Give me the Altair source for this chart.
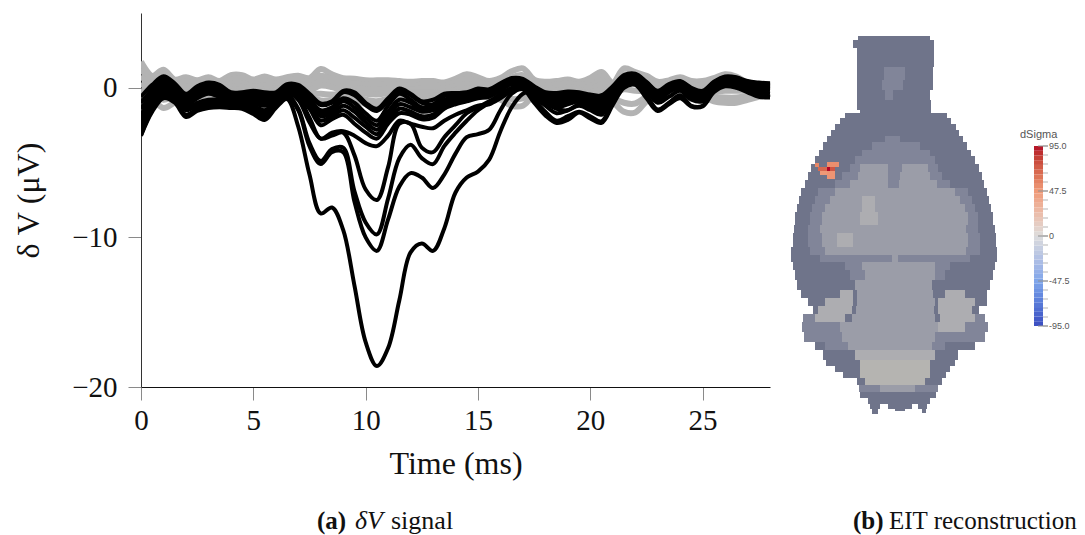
import altair as alt
import pandas as pd

TIME = [i * 0.5 for i in range(57)]
X_TICKS = [0, 5, 10, 15, 20, 25]
Y_TICKS = [-20, -10, 0]

GREY = {
 "g1": [1.75,0.8,1.2,0.55,0.7,0.5,0.7,0.45,0.85,0.85,0.55,0.75,0.55,0.7,0.8,0.65,1.25,0.9,0.65,0.6,0.5,0.5,0.5,0.45,0.4,0.45,0.45,0.35,0.6,0.9,0.7,0.45,0.65,1.1,1.3,0.55,0.4,0.45,0.55,0.4,0.65,1.05,0.35,1.3,1.05,0.8,0.4,0.5,0.7,0.45,0.45,0.65,0.9,0.75,0.35,0.25,0.2],
 "g2": [1.3,0.5,0.9,0.3,0.4,0.3,0.45,0.25,0.55,0.6,0.3,0.45,0.3,0.5,0.55,0.4,0.8,0.6,0.35,0.3,0.2,0.2,0.25,0.2,0.15,0.2,0.2,0.15,0.35,0.6,0.4,0.2,0.35,0.7,0.85,0.3,0.15,0.2,0.3,0.2,0.35,0.75,0.15,0.9,0.75,0.5,0.15,0.25,0.45,0.2,0.2,0.4,0.6,0.5,0.2,0.1,0.05],
 "g3": [0.8,0.2,0.4,0.05,0.1,0.05,0.15,0.05,0.3,0.3,0.1,0.15,0.1,0.25,0.25,0.1,0.45,0.3,0.05,0,-0.1,-0.1,-0.05,-0.05,-0.1,-0.05,-0.05,-0.05,0.1,0.25,0.1,-0.05,0.05,0.3,0.4,0.05,-0.05,0,0.05,-0.05,0.1,0.5,-0.1,0.45,0.3,0.15,-0.05,0,0.15,0,-0.05,0.1,0.2,0.15,0,-0.1,-0.1],
 "g4": [0.3,-0.15,-0.1,-0.2,-0.2,-0.25,-0.2,-0.2,0.05,0.05,-0.1,-0.1,-0.05,0,0,-0.15,0.15,0.05,-0.2,-0.25,-0.4,-0.45,-0.35,-0.25,-0.3,-0.3,-0.3,-0.25,-0.15,-0.05,-0.15,-0.25,-0.25,-0.1,-0.05,-0.15,-0.2,-0.2,-0.15,-0.2,-0.1,0.2,-0.35,-0.1,-0.2,-0.2,-0.2,-0.2,-0.1,-0.2,-0.3,-0.25,-0.2,-0.2,-0.2,-0.3,-0.3],
 "g5": [-0.1,-0.5,-0.8,-0.6,-0.55,-0.6,-0.6,-0.5,-0.15,-0.15,-0.25,-0.25,-0.2,-0.15,-0.25,-0.4,-0.4,-0.45,-0.4,-0.5,-0.8,-0.9,-0.7,-0.45,-0.55,-0.6,-0.55,-0.45,-0.35,-0.3,-0.35,-0.45,-0.55,-0.75,-0.7,-0.35,-0.35,-0.35,-0.3,-0.35,-0.25,-0.05,-0.65,-1.0,-1.05,-0.6,-0.3,-0.35,-0.35,-0.4,-0.5,-0.6,-0.65,-0.65,-0.55,-0.5,-0.4],
 "g6": [-0.4,-0.75,-1.35,-1.0,-0.8,-0.9,-0.9,-0.7,-0.25,-0.25,-0.35,-0.35,-0.25,-0.25,-0.4,-0.6,-0.85,-0.8,-0.55,-0.7,-1.1,-1.25,-0.9,-0.6,-0.7,-0.8,-0.7,-0.6,-0.5,-0.4,-0.5,-0.6,-0.8,-1.2,-1.2,-0.5,-0.4,-0.4,-0.4,-0.4,-0.3,-0.2,-0.9,-1.6,-1.65,-0.9,-0.3,-0.4,-0.5,-0.5,-0.6,-0.9,-1.0,-1.0,-0.8,-0.6,-0.4],
}

BLACK = {
 "b1": [-0.6,0.2,0.78,0.3,-0.4,0.1,0.35,0.2,-0.3,-0.3,-0.2,-0.3,-0.3,0.25,0.2, -0.4,-1.05,-0.9,-0.2,-0.3,-1.0,-1.4,-0.7,-0.05,-0.4,-0.9,-0.8,-0.4,-0.35,-0.3,-0.05,-0.1,0.3,0.65, 0.6,0.1,-0.3,-0.35,-0.25,-0.3,-0.45,-0.5,0.1,0.85,0.95,0.4,-0.2,0.25,0.45,0,-0.2,0.4,0.75,0.7,0.45,0.35,0.3],
 "b2": [-1.0,-0.1,0.65,0.2,-0.5,0,0.3,0.1,-0.35,-0.35,-0.3,-0.35,-0.4,0.2,0.1, -0.5,-1.15,-1.0,-0.3,-0.5,-1.15,-1.55,-0.9,-0.2,-0.5,-1.0,-1.1,-0.55,-0.45,-0.4,-0.15,-0.15,0.2,0.55, 0.5,0.05,-0.35,-0.45,-0.35,-0.35,-0.55,-0.6,0.05,0.75,0.9,0.35,-0.25,0.15,0.4,-0.05,-0.25,0.35,0.7,0.65,0.4,0.3,0.2],
 "m4": [-1.4,-0.4,0.5,0,-0.6,-0.15,0.1,0,-0.4,-0.4,-0.4,-0.5,-0.5,0.1,-0.1, -0.8,-1.5,-1.3,-0.7,-1.0,-1.7,-2.2,-1.2,-0.4,-0.8,-1.3,-1.2,-0.8,-0.6,-0.5,-0.3,-0.25,0.1,0.45, 0.4,0,-0.4,-0.6,-0.5,-0.45,-0.6,-0.7,0,0.7,0.8,0.3,-0.35,0.1,0.3,-0.2,-0.3,0.3,0.65,0.6,0.35,0.2,0.1],
 "m3": [-1.8,-0.7,0.3,-0.2,-0.7,-0.3,0,-0.2,-0.5,-0.5,-0.5,-0.7,-0.6,0,-0.3, -1.0,-1.9,-1.7,-1.2,-1.6,-2.3,-2.8,-1.9,-1.1,-1.3,-1.6,-1.5,-1.2,-0.9,-0.7,-0.5,-0.4,0,0.35, 0.3,-0.2,-0.6,-0.9,-0.8,-0.6,-0.8,-1.0,-0.2,0.55,0.7,0.2,-0.6,-0.1,0.1,-0.4,-0.5,0.2,0.55,0.5,0.2,0.05,0],
 "e1": [-2.1,-0.8,0.15,-0.3,-0.8,-0.4,-0.1,-0.3,-0.55,-0.55,-0.6,-0.8,-0.65,-0.05,-0.4, -0.7,-1.7,-1.5,-0.9,-1.3,-2.0,-2.5,-1.6,-0.8,-1.0,-1.5,-1.4,-1.0,-0.8,-0.6,-0.4,-0.3,0.05,0.4, 0.35,-0.1,-0.5,-0.75,-0.65,-0.5,-0.7,-0.85,-0.1,0.6,0.75,0.25,-0.5,0,0.2,-0.3,-0.4,0.25,0.6,0.55,0.3,0.1,0.05],
 "e2": [-2.3,-0.9,0,-0.4,-0.9,-0.5,-0.2,-0.4,-0.6,-0.6,-0.7,-0.9,-0.7,-0.1,-0.5, -1.2,-2.2,-1.9,-1.5,-2.0,-2.6,-3.1,-2.2,-1.4,-1.6,-1.9,-1.8,-1.3,-1.0,-0.8,-0.6,-0.5,-0.1,0.3, 0.25,-0.3,-0.75,-1.1,-0.95,-0.75,-0.95,-1.2,-0.3,0.45,0.6,0.1,-0.7,-0.2,0.05,-0.5,-0.6,0.15,0.5,0.45,0.15,0,-0.1],
 "m2": [-2.5,-1.0,-0.1,-0.5,-1.0,-0.6,-0.3,-0.5,-0.65,-0.7,-0.85,-1.05,-0.75,-0.2,-0.6, -1.4,-2.5,-2.1,-1.8,-2.4,-3.0,-3.4,-2.4,-1.7,-1.8,-2.1,-2.0,-1.4,-1.1,-0.9,-0.7,-0.6,-0.15,0.25, 0.2,-0.4,-0.9,-1.3,-1.1,-0.9,-1.1,-1.4,-0.4,0.4,0.55,0,-0.8,-0.3,0,-0.6,-0.7,0.1,0.45,0.4,0.1,-0.1,-0.2],
 "m1": [-2.7,-1.1,-0.25,-0.6,-1.2,-0.7,-0.4,-0.6,-0.7,-0.8,-1.0,-1.2,-0.8,-0.3,-0.7, -2.0,-3.4,-3.0,-2.9,-3.2,-3.7,-3.9,-3.2,-2.2,-2.4,-2.6,-2.7,-2.2,-1.8,-1.5,-1.2,-1.1,-0.7,-0.2, 0.1,-0.6,-1.2,-1.7,-1.5,-1.2,-1.5,-1.8,-0.6,0.3,0.45,-0.2,-1.0,-0.6,-0.2,-0.8,-0.9,0,0.3,0.2,-0.1,-0.3,-0.4],
 "d4": [-2.9,-1.3,-0.4,-0.7,-1.4,-1.0,-0.8,-0.8,-0.9,-1.0,-1.2,-1.5,-0.9,-0.35,-0.8, -2.3,-3.4,-3.2,-3.0,-4.5,-6.8,-7.5,-5.3,-2.4,-2.4,-4.0,-4.3,-3.3,-2.5,-1.7,-1.3,-0.9,-0.5,-0.1, 0,-0.8,-1.6,-2.2,-1.9,-1.6,-1.9,-2.25,-0.9,0.1,0.3,-0.5,-1.45,-1.0,-0.5,-1.2,-1.2,-0.2,0.2,0.1,-0.2,-0.5,-0.6],
 "d3": [-3.0,-1.4,-0.5,-0.8,-1.5,-1.2,-1.0,-1.0,-1.1,-1.1,-1.4,-1.7,-1.1,-0.5,-1.4, -3.7,-4.9,-4.1,-4.0,-6.9,-9.0,-9.8,-7.4,-4.7,-3.8,-4.7,-5.1,-3.9,-3.0,-2.2,-1.5,-1.0,-0.4,0, 0.3,-0.3,-0.7,-1.0,-0.9,-0.7,-0.9,-1.1,-0.3,0.5,0.65,0.15,-0.65,-0.15,0.05,-0.45,-0.55,0.15,0.5,0.45,0.15,0,-0.05],
 "d2": [-3.15,-1.5,-0.6,-0.9,-1.8,-1.4,-1.15,-1.15,-1.25,-1.3,-1.6,-1.9,-1.25,-0.6,-1.5, -3.9,-5.1,-4.3,-4.3,-7.6,-10.0,-10.9,-8.8,-6.6,-5.7,-6.0,-6.7,-5.8,-4.4,-3.3,-3.1,-2.8,-1.5,-0.4, -0.1,-1.0,-1.85,-2.35,-2.15,-1.65,-2.05,-2.35,-1.15,0,0.2,-0.7,-1.55,-1.1,-0.7,-1.25,-1.25,-0.3,0.1,0,-0.3,-0.6,-0.65],
 "d1": [-3.2,-1.6,-0.7,-1.0,-1.95,-1.55,-1.35,-1.3,-1.35,-1.4,-1.75,-2.15,-1.35,-0.75,-2.6, -5.8,-8.4,-8.0,-9.5,-13.2,-17.0,-18.6,-17.4,-14.2,-11.0,-10.4,-10.9,-9.4,-7.0,-6.0,-5.6,-4.8,-2.9,-1.3, -0.4,-0.2,-1.0,-1.4,-1.5,-1.1,-1.3,-1.6,-0.6,0.5,0.6,0.1,-0.4,0.1,0.2,-0.2,-0.4,0.2,0.6,0.5,0.3,0.1,0],
}

# Head mosaic: (top, bottom, edges, shade per span)
HEAD_ROWS = [
 (36,40,[858,930],"D"),(40,48,[853,934],"D"),(48,67,[857,934],"D"),
 (67,80,[857,884,905,933],"DMD"),(80,90,[857,882,903,933],"DMD"),(90,100,[857,885,893,930],"DMD"),
 (100,110,[857,931],"D"),(110,113,[860,931],"D"),
 (113,118,[845,947],"D"),(118,124,[840,951],"D"),(124,130,[835,956],"D"),(130,136,[831,959],"D"),
 (136,142,[827,885,900,963],"DMD"),(142,150,[823,872,920,967],"DMD"),(150,156,[819,862,930,971],"DMD"),
 (156,164,[815,855,935,975],"DMD"),(164,172,[811,850,860,888,902,928,938,979],"DMLMLMD"),
 (172,180,[808,842,858,888,900,930,942,982],"DMLMLMD"),(180,188,[805,835,850,888,899,937,950,984],"DMLMLMD"),
 (188,196,[801,818,835,955,968,987],"DMLMD"),(196,204,[799,815,830,862,875,960,972,989],"DMLPLMD"),
 (204,212,[797,812,825,862,875,965,975,991],"DMLPLMD"),(212,225,[795,810,822,860,878,968,978,993],"DMLPLMD"),
 (225,233,[794,808,820,966,978,995],"DMLMD"),(233,247,[793,808,822,837,853,968,980,996],"DMLPLMD"),
 (247,255,[791,810,825,966,980,997],"DMLMD"),(255,262,[791,820,892,898,970,997],"DMLMD"),
 (262,270,[793,845,862,935,950,995],"DMLMD"),(270,280,[795,850,865,935,945,993],"DMLMD"),
 (280,290,[797,855,932,990],"DLD"),(290,298,[801,840,853,857,933,945,965,987],"DPDLDPD"),
 (298,306,[808,825,853,857,935,938,975,987],"DPDLDPD"),(306,314,[813,818,852,856,934,938,972,979],"DPDLDPD"),
 (314,322,[803,815,845,852,935,940,975,985],"MPDLDPM"),(322,332,[802,840,938,965,988],"MLPM"),
 (332,342,[804,842,935,985],"MLM"),(342,350,[815,825,848,932,945,975],"DMLMD"),
 (350,360,[823,855,935,958],"DPD"),(360,366,[826,860,930,955],"DCD"),(366,372,[835,860,930,950],"DCD"),
 (372,378,[843,860,930,946],"DCD"),(378,385,[857,865,925,942],"DCD"),(385,392,[859,880,915,938],"MLM"),
 (392,398,[860,936],"D"),(398,404,[868,930],"D"),(404,409,[870,880],"D"),(404,409,[888,912],"D"),(404,409,[918,927],"D"),
 (409,414,[872,878],"D"),(409,411,[895,905],"D"),(409,413,[922,926],"D"),
]
SHADE_KEYS = ["D", "M", "L", "P", "C"]
SHADE_COLORS = ["#6f748a", "#818599", "#9b9da8", "#adadb1", "#b5b4b1"]

HOT_X0 = [815, 827, 818, 827, 830, 820, 827]
HOT_X1 = [819, 839, 827, 830, 835, 827, 835]
HOT_Y0 = [163, 162, 167, 167, 167, 171, 171]
HOT_Y1 = [167, 167, 171, 171, 171, 175, 179]
HOT_SIGMA = [55, 52, 68, 95, 75, 48, 50]

BAR_LEVELS = list(range(-95, 95, 5))
BAR_MINOR = [-95, -85.5, -76, -66.5, -57, -47.5, -38, -28.5, -19, -9.5, 0, 9.5, 19, 28.5, 38, 47.5, 57, 66.5, 76, 85.5, 95]
BAR_LABEL_VALUES = [95, 47.5, 0, -47.5, -95]
BAR_LABELS = ["95.0", "47.5", "0", "-47.5", "-95.0"]

CANVAS_X = alt.Scale(domain=[141, 1077], range=[0, 936])
CANVAS_Y = alt.Scale(domain=[13, 387], range=[0, 374])
BAR_Y = alt.Scale(domain=[-95, 95], range=[313, 133])
SIGMA = alt.Scale(domain=[-95, -47.5, 0, 47.5, 95], range=["#3b4cc0", "#7fa5ea", "#dddddd", "#f09a78", "#b40426"])
SERIF = "Liberation Serif"
SANS = "Liberation Sans"

def series_frame(table):
    rows = []
    for name, vals in table.items():
        for t, v in zip(TIME, vals, strict=True):
            rows.append({"s": name, "t": t, "v": v})
    return pd.DataFrame(rows)

x_axis = alt.Axis(values=X_TICKS, tickSize=13, tickColor="#8a8a8a", domainColor="#111111", grid=False,
                  labelFont=SERIF, labelFontSize=29, labelColor="#111111", labelPadding=6, labelFlush=False,
                  title="Time (ms)", titleFont=SERIF, titleFontSize=32, titleFontWeight="normal", titleColor="#111111",
                  titleY=86, titleBaseline="alphabetic")
y_axis = alt.Axis(values=Y_TICKS, tickSize=13, tickColor="#8a8a8a", domainColor="#333333", grid=False,
                  labelFont=SERIF, labelFontSize=29, labelColor="#111111", labelPadding=11, labelFlush=False,
                  title="δ V\u00a0(μV)", titleFont=SERIF, titleFontSize=32, titleFontWeight="normal", titleColor="#111111",
                  titleX=-103, titleY=187, titleAlign="center", titleBaseline="alphabetic")

x_sig = alt.Scale(domain=[0, 28], range=[0, 629])
y_sig = alt.Scale(domain=[-20, 5], range=[374, 0])

grey = alt.Chart(series_frame(GREY)).mark_line(color="#b3b3b3", strokeWidth=6, interpolate="catmull-rom", clip=True).encode(
    x=alt.X("t:Q", scale=x_sig, axis=x_axis),
    y=alt.Y("v:Q", scale=y_sig, axis=y_axis),
    detail="s:N")
black = alt.Chart(series_frame(BLACK)).mark_line(color="#000000", strokeWidth=4, interpolate="catmull-rom", clip=True).encode(
    x=alt.X("t:Q", scale=x_sig, axis=None),
    y=alt.Y("v:Q", scale=y_sig, axis=None),
    detail="s:N")

head_records = []
for top, bottom, edges, shades in HEAD_ROWS:
    for i, key in enumerate(shades):
        head_records.append({"x0": edges[i], "x1": edges[i + 1], "y0": top, "y1": bottom, "shade": key})
head = alt.Chart(pd.DataFrame(head_records)).mark_rect().encode(
    x=alt.X("x0:Q", scale=CANVAS_X, axis=None), x2="x1:Q",
    y=alt.Y("y0:Q", scale=CANVAS_Y, axis=None), y2="y1:Q",
    color=alt.Color("shade:N", scale=alt.Scale(domain=SHADE_KEYS, range=SHADE_COLORS), legend=None))

hot = alt.Chart(pd.DataFrame({"x0": HOT_X0, "x1": HOT_X1, "y0": HOT_Y0, "y1": HOT_Y1, "v": HOT_SIGMA})).mark_rect().encode(
    x=alt.X("x0:Q", scale=CANVAS_X, axis=None), x2="x1:Q",
    y=alt.Y("y0:Q", scale=CANVAS_Y, axis=None), y2="y1:Q",
    color=alt.Color("v:Q", scale=SIGMA, legend=None))

bar_df = pd.DataFrame({"lo": BAR_LEVELS, "hi": [v + 5 for v in BAR_LEVELS], "mid": [v + 2.5 for v in BAR_LEVELS],
                       "x0": [1034] * len(BAR_LEVELS), "x1": [1043] * len(BAR_LEVELS)})
bar = alt.Chart(bar_df).mark_rect().encode(
    x=alt.X("x0:Q", scale=CANVAS_X, axis=None), x2="x1:Q",
    y=alt.Y("lo:Q", scale=BAR_Y, axis=None), y2="hi:Q",
    color=alt.Color("mid:Q", scale=SIGMA, legend=None))

minor = alt.Chart(pd.DataFrame({"v": BAR_MINOR, "x0": [1043] * len(BAR_MINOR), "x1": [1048] * len(BAR_MINOR)})).mark_rule(
    color="#b5b5b5", strokeWidth=1).encode(
    x=alt.X("x0:Q", scale=CANVAS_X, axis=None), x2="x1:Q", y=alt.Y("v:Q", scale=BAR_Y, axis=None))
major = alt.Chart(pd.DataFrame({"v": BAR_LABEL_VALUES, "x0": [1038] * 5, "x1": [1048] * 5})).mark_rule(
    color="#909090", strokeWidth=1).encode(
    x=alt.X("x0:Q", scale=CANVAS_X, axis=None), x2="x1:Q", y=alt.Y("v:Q", scale=BAR_Y, axis=None))
bar_text = alt.Chart(pd.DataFrame({"v": BAR_LABEL_VALUES, "t": BAR_LABELS, "x": [1049] * 5})).mark_text(
    font=SANS, fontSize=9, color="#555555", align="left", baseline="middle").encode(
    x=alt.X("x:Q", scale=CANVAS_X, axis=None), y=alt.Y("v:Q", scale=BAR_Y, axis=None), text="t:N")

def label(text, px, py, size, font=SERIF, color="#111111", **kw):
    return alt.Chart(pd.DataFrame({"t": [text], "x": [px], "y": [py]})).mark_text(
        font=font, fontSize=size, color=color, align="left", baseline="alphabetic", **kw).encode(
        x=alt.X("x:Q", scale=CANVAS_X, axis=None), y=alt.Y("y:Q", scale=CANVAS_Y, axis=None), text="t:N")

texts = [
    label("dSigma", 1020, 138, 11, font=SANS, color="#555555"),
    label("(a)", 317, 529, 25, fontWeight="bold"),
    label("δV", 355, 529, 26, fontStyle="italic"),
    label("signal", 391, 529, 26),
    label("(b)", 853, 529, 25, fontWeight="bold"),
    label("EIT reconstruction", 889, 529, 25),
]

chart = alt.layer(grey, black, head, hot, bar, minor, major, bar_text, *texts).resolve_scale(
    x="independent", y="independent", color="independent"
).properties(
    width=936, height=374,
    autosize=alt.AutoSizeParams(type="none"),
    padding={"left": 133, "top": 5, "right": 0, "bottom": 148},
    background="white",
).configure_view(stroke=None)

chart.save("out.html", embed_options={"renderer": "svg", "actions": False})
